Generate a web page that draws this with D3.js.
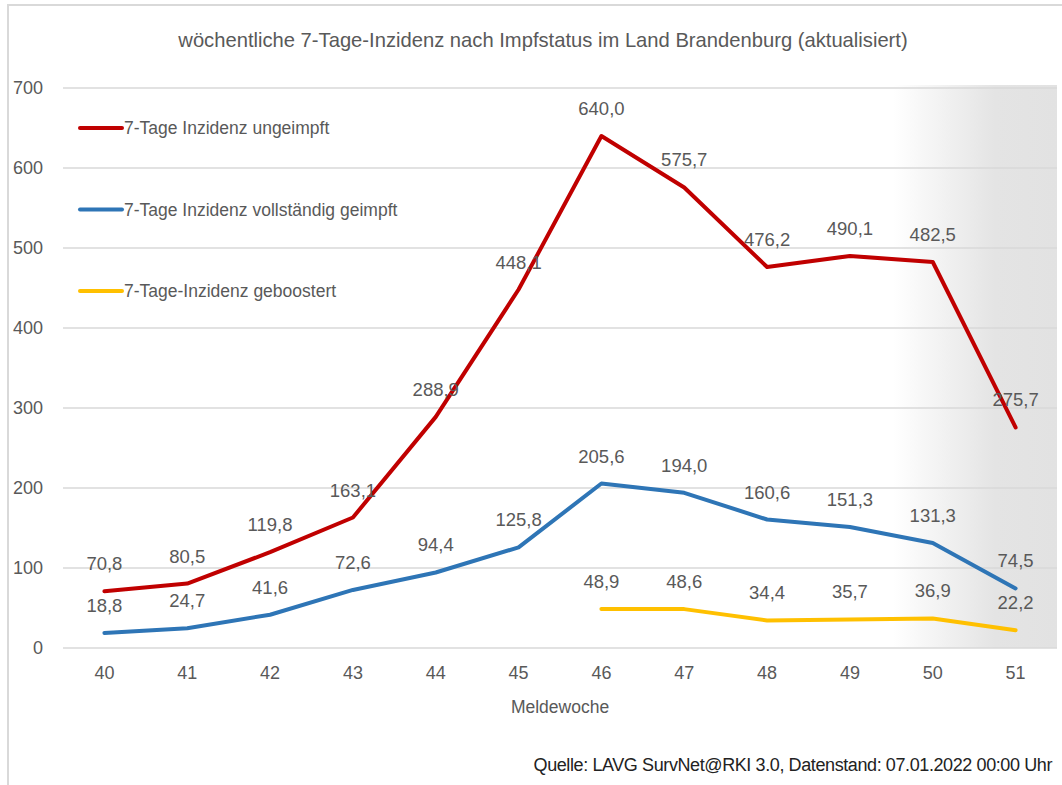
<!DOCTYPE html>
<html>
<head>
<meta charset="utf-8">
<script src="https://cdn.jsdelivr.net/npm/d3@7"></script>
<style>
  body { margin: 0; background: #fff; }
  text { font-family: "Liberation Sans", Arial, sans-serif; fill: #595959; }
</style>
</head>
<body>
<div id="chart"></div>
<script>
var weeks = ["40", "41", "42", "43", "44", "45", "46", "47", "48", "49", "50", "51"];
var ungeimpft = [70.8, 80.5, 119.8, 163.1, 288.9, 448.1, 640.0, 575.7, 476.2, 490.1, 482.5, 275.7];
var geimpft = [18.8, 24.7, 41.6, 72.6, 94.4, 125.8, 205.6, 194.0, 160.6, 151.3, 131.3, 74.5];
var geboostertWeeks = ["46", "47", "48", "49", "50", "51"];
var geboostert = [48.9, 48.6, 34.4, 35.7, 36.9, 22.2];
var yTicks = [0, 100, 200, 300, 400, 500, 600, 700];

var series = [
    { name: "7-Tage Inzidenz ungeimpft", color: "#C00000", x: weeks, y: ungeimpft },
    { name: "7-Tage Inzidenz vollständig geimpft", color: "#2E75B6", x: weeks, y: geimpft },
    { name: "7-Tage-Inzidenz geboostert", color: "#FFC000", x: geboostertWeeks, y: geboostert }
];

var W = 1062, H = 785;
var margin = { top: 88, right: 5, bottom: 137, left: 63 };
var width = W - margin.left - margin.right;
var height = H - margin.top - margin.bottom;

var svg = d3.select("#chart").append("svg")
    .attr("width", W)
    .attr("height", H);

// outer frame (top and left edges visible)
svg.append("path")
    .attr("d", "M8," + H + "V5H" + W)
    .attr("fill", "none")
    .attr("stroke", "#d9d9d9")
    .attr("stroke-width", 2);

var defs = svg.append("defs");
var grad = defs.append("linearGradient")
    .attr("id", "shade")
    .attr("x1", "0").attr("x2", "1").attr("y1", "0").attr("y2", "0");
grad.append("stop").attr("offset", "0").attr("stop-color", "#ffffff");
grad.append("stop").attr("offset", "0.62").attr("stop-color", "#e4e4e4");
grad.append("stop").attr("offset", "1").attr("stop-color", "#e2e2e2");

var g = svg.append("g")
    .attr("transform", "translate(" + margin.left + "," + margin.top + ")");

var x = d3.scaleBand()
    .domain(weeks)
    .range([0, width]);

var y = d3.scaleLinear()
    .domain([0, 700])
    .range([height, 0]);

// shaded area (last weeks, data still incomplete)
g.append("rect")
    .attr("x", x("50") + 2)
    .attr("y", y(700) - 3)
    .attr("width", width - x("50") - 2)
    .attr("height", height + 3)
    .attr("fill", "url(#shade)");

// grid lines
g.append("g")
    .attr("class", "grid")
    .selectAll("line")
    .data(yTicks)
    .enter().append("line")
    .attr("x1", 0)
    .attr("x2", width)
    .attr("y1", function(d) { return y(d); })
    .attr("y2", function(d) { return y(d); })
    .attr("stroke", "#d9d9d9")
    .attr("stroke-width", 1.5);

// y axis labels
var yAxis = d3.axisLeft(y).tickValues(yTicks).tickSize(0).tickPadding(20);
g.append("g")
    .attr("class", "y-axis")
    .call(yAxis)
    .call(function(sel) { sel.select(".domain").remove(); })
    .selectAll("text")
    .attr("font-size", 18)
    .attr("font-family", null)
    .attr("fill", "#595959");

// x axis labels
var xAxis = d3.axisBottom(x).tickSize(0).tickPadding(18);
g.append("g")
    .attr("class", "x-axis")
    .attr("transform", "translate(0," + height + ")")
    .call(xAxis)
    .call(function(sel) { sel.select(".domain").remove(); })
    .selectAll("text")
    .attr("font-size", 18)
    .attr("font-family", null)
    .attr("fill", "#595959");

// lines
var line = d3.line()
    .x(function(d) { return x(d[0]) + x.bandwidth() / 2; })
    .y(function(d) { return y(d[1]); });

series.forEach(function(s) {
    var pts = s.x.map(function(w, i) { return [w, s.y[i]]; });
    g.append("path")
        .datum(pts)
        .attr("fill", "none")
        .attr("stroke", s.color)
        .attr("stroke-width", 4)
        .attr("stroke-linejoin", "round")
        .attr("stroke-linecap", "round")
        .attr("d", line);
});

// value labels
series.forEach(function(s) {
    g.selectAll(null)
        .data(s.y)
        .enter().append("text")
        .attr("x", function(d, i) { return x(s.x[i]) + x.bandwidth() / 2; })
        .attr("y", function(d) { return y(d) - 21; })
        .attr("text-anchor", "middle")
        .attr("font-size", 18.5)
        .text(function(d) { return d.toFixed(1).replace(".", ","); });
});

// legend
var legend = svg.append("g").attr("transform", "translate(80,128)");
series.forEach(function(s, i) {
    var row = legend.append("g").attr("transform", "translate(0," + (i * 81.5) + ")");
    row.append("line")
        .attr("x1", 0).attr("x2", 42)
        .attr("stroke", s.color)
        .attr("stroke-width", 4)
        .attr("stroke-linecap", "round");
    row.append("text")
        .attr("x", 44)
        .attr("dy", "0.36em")
        .attr("font-size", 17.5)
        .text(s.name);
});

// title
svg.append("text")
    .attr("x", 543)
    .attr("y", 47)
    .attr("text-anchor", "middle")
    .attr("font-size", 20.2)
    .text("wöchentliche  7-Tage-Inzidenz  nach  Impfstatus im Land Brandenburg (aktualisiert)");

// axis title
svg.append("text")
    .attr("x", margin.left + width / 2)
    .attr("y", 713)
    .attr("text-anchor", "middle")
    .attr("font-size", 17.5)
    .text("Meldewoche");

// source
svg.append("text")
    .attr("x", 1052)
    .attr("y", 771)
    .attr("text-anchor", "end")
    .attr("font-size", 18)
    .attr("letter-spacing", "-0.4px")
    .style("fill", "#222")
    .text("Quelle: LAVG SurvNet@RKI 3.0, Datenstand: 07.01.2022 00:00 Uhr");
</script>
</body>
</html>
